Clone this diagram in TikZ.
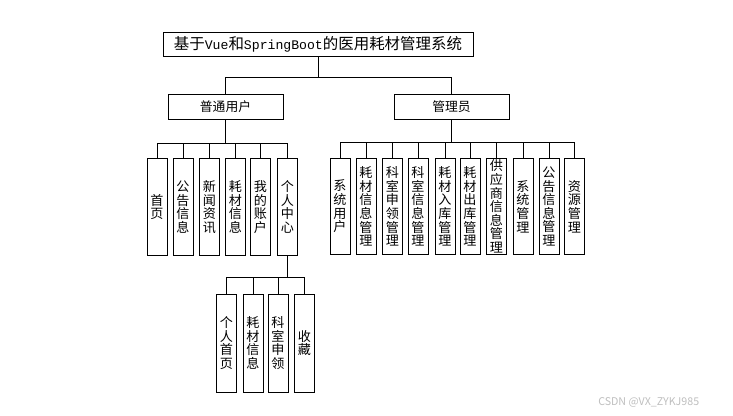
\documentclass[tikz,border=0pt]{standalone}
\usepackage{fontspec}
\setmainfont{Noto Sans CJK SC}
\newfontfamily\cjk{Noto Sans CJK SC}
\newfontfamily\latmono[Scale=0.85]{Liberation Mono}
\begin{document}
\begin{tikzpicture}[x=0.75pt,y=-0.75pt,
  box/.style={draw=black, line width=0.6pt, inner sep=0pt, fill=white},
  topbox/.style={box, minimum width=232.5pt, minimum height=18pt, font=\fontsize{11.6}{13}\selectfont},
  rolebox/.style={box, minimum width=86.25pt, minimum height=18.75pt, font=\fontsize{9.6}{11}\selectfont},
  vbox/.style={box, minimum width=15pt, minimum height=72.5pt, align=center, font=\fontsize{9.8}{10.2}\selectfont},
  conn/.style={draw=black, line width=0.6pt}
]
\useasboundingbox (0,0) rectangle (733,415);
\fill[white] (0,0) rectangle (733,415);

% top
\node[topbox] (root) at (318,44) {基于\latmono Vue\cjk 和\latmono SpringBoot\cjk 的医用耗材管理系统};
\node[rolebox] (user) at (225.5,106.5) {普通用户};
\node[rolebox] (admin) at (451.5,106.5) {管理员};

% user children
\node[vbox] (u1) at (157,207) {首\\页};
\node[vbox] (u2) at (183,207) {公\\告\\信\\息};
\node[vbox] (u3) at (209.5,207) {新\\闻\\资\\讯};
\node[vbox] (u4) at (235.5,207) {耗\\材\\信\\息};
\node[vbox] (u5) at (260.5,207) {我\\的\\账\\户};
\node[vbox] (u6) at (287.5,207) {个\\人\\中\\心};

% admin children
\node[vbox] (a1) at (340,206.5) {系\\统\\用\\户};
\node[vbox] (a2) at (366,206.5) {耗\\材\\信\\息\\管\\理};
\node[vbox] (a3) at (392.5,206.5) {科\\室\\申\\领\\管\\理};
\node[vbox] (a4) at (418,206.5) {科\\室\\信\\息\\管\\理};
\node[vbox] (a5) at (445,206.5) {耗\\材\\入\\库\\管\\理};
\node[vbox] (a6) at (470,206.5) {耗\\材\\出\\库\\管\\理};
\node[vbox] (a7) at (496.5,206.5) {供\\应\\商\\信\\息\\管\\理};
\node[vbox] (a8) at (523,206.5) {系\\统\\管\\理};
\node[vbox] (a9) at (549,206.5) {公\\告\\信\\息\\管\\理};
\node[vbox] (a10) at (574.5,206.5) {资\\源\\管\\理};

% personal center children
\node[vbox, minimum height=73.5pt] (p1) at (226.5,343) {个\\人\\首\\页};
\node[vbox, minimum height=73.5pt] (p2) at (253,343) {耗\\材\\信\\息};
\node[vbox, minimum height=73.5pt] (p3) at (278,343) {科\\室\\申\\领};
\node[vbox, minimum height=73.5pt] (p4) at (304.5,343) {收\\藏};

% buses
\coordinate (b0) at (root.south |- 0,77);
\coordinate (b1) at (user.south |- 0,143);
\coordinate (b2) at (admin.south |- 0,142.5);
\coordinate (b3) at (u6.south |- 0,277);

\draw[conn] (root.south) -- (b0);
\draw[conn] (b0) -| (user.north);
\draw[conn] (b0) -| (admin.north);

\draw[conn] (user.south) -- (b1);
\foreach \c in {u1,u2,u3,u4,u5,u6} \draw[conn] (b1) -| (\c.north);

\draw[conn] (admin.south) -- (b2);
\foreach \c in {a1,a2,a3,a4,a5,a6,a7,a8,a9,a10} \draw[conn] (b2) -| (\c.north);

\draw[conn] (u6.south) -- (b3);
\foreach \c in {p1,p2,p3,p4} \draw[conn] (b3) -| (\c.north);

% watermark
\node[text=black!25, font=\fontsize{8}{9}\selectfont, anchor=west, inner sep=0pt] (wm) at (598,402) {CSDN @VX\_ZYKJ985};
\end{tikzpicture}
\end{document}
